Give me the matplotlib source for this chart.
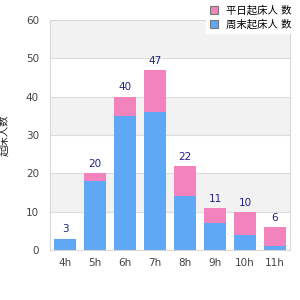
import matplotlib
matplotlib.use("Agg")
import matplotlib.pyplot as plt
from matplotlib.patches import Patch
import numpy as np

plt.rcParams['font.family'] = ['DejaVu Sans', 'Noto Sans CJK SC']

categories = ["4h", "5h", "6h", "7h", "8h", "9h", "10h", "11h"]
blue_vals = [3, 18, 35, 36, 14, 7, 4, 1]
pink_vals = [0, 2, 5, 11, 8, 4, 6, 5]
totals = [3, 20, 40, 47, 22, 11, 10, 6]
yticks = [0, 10, 20, 30, 40, 50, 60]
legend_pink = "平日起床人 数"
legend_blue = "周末起床人 数"
ylabel = "起床人数"

blue = "#5fa8f5"
pink = "#f283bc"

fig = plt.figure(figsize=(3, 3), dpi=100)
ax = fig.add_axes([50/300, 50/300, 240/300, 230/300])

# alternating background bands
for i in range(len(yticks) - 1):
    if i % 2 == 1:
        ax.axhspan(yticks[i], yticks[i+1], color="#f2f2f2", zorder=0, lw=0)
for t in yticks[1:-1]:
    ax.axhline(t, color="#dddddd", lw=0.8, zorder=0.5)

x = np.arange(len(categories))
ax.bar(x, blue_vals, width=0.73, color=blue, zorder=2)
ax.bar(x, pink_vals, width=0.73, bottom=blue_vals, color=pink, zorder=2)
for xi, t in zip(x, totals):
    ax.annotate(str(t), (xi, t), xytext=(0, 3), textcoords="offset points",
                ha="center", va="bottom", fontsize=7.5, color="#222288")

ax.set_xlim(-0.5, len(categories) - 0.5)
ax.set_ylim(0, 60)
ax.set_yticks(yticks)
ax.set_xticks(x)
ax.set_xticklabels(categories)
ax.tick_params(axis="both", length=0, labelsize=7.5, colors="#444444", pad=6)
ax.tick_params(axis="y", pad=8)
for s in ax.spines.values():
    s.set_color("#d8d8d8")
    s.set_linewidth(0.8)
ax.set_ylabel(ylabel, fontsize=7.5, color="#222222", labelpad=12)

handles = [Patch(facecolor=pink, edgecolor="#777777", lw=0.8),
           Patch(facecolor=blue, edgecolor="#777777", lw=0.8)]
leg = fig.legend(handles, [legend_pink, legend_blue], loc="upper right",
                 bbox_to_anchor=(1.0, 1.012), fontsize=7.5, frameon=True,
                 handlelength=0.8, handleheight=0.8, handletextpad=0.8,
                 borderpad=0.3, labelspacing=0.35, fancybox=False)
leg.get_frame().set_edgecolor("white")
leg.get_frame().set_facecolor("white")
leg.get_frame().set_alpha(1)
leg.set_zorder(5)

fig.savefig("out.png", dpi=100)
